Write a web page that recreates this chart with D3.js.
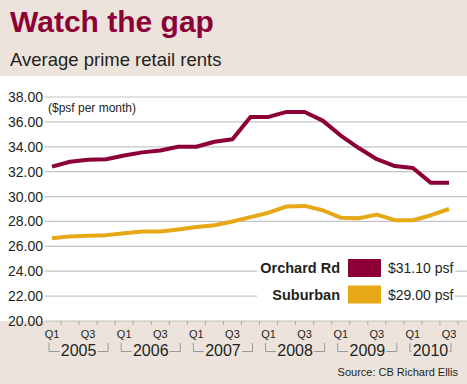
<!DOCTYPE html>
<html>
<head>
<meta charset="utf-8"/>
<title>Watch the gap</title>
<script src="https://d3js.org/d3.v7.min.js"></script>
<style>
  body { margin: 0; background: #fff; }
  text { font-family: "Liberation Sans", Arial, sans-serif; fill: #231f20; }
  .grid { stroke: #c4c4c4; stroke-width: 1.2px; }
</style>
</head>
<body>
<svg width="467" height="384"></svg>
<script>
// data
var quarters = ["Q1","Q2","Q3","Q4","Q1","Q2","Q3","Q4","Q1","Q2","Q3","Q4",
                "Q1","Q2","Q3","Q4","Q1","Q2","Q3","Q4","Q1","Q2","Q3"];
var years = ["2005","2006","2007","2008","2009","2010"];
var orchard = [32.4, 32.8, 32.95, 33.0, 33.3, 33.55, 33.7, 34.0, 34.0, 34.4, 34.6, 36.4,
               36.4, 36.8, 36.8, 36.1, 34.9, 33.9, 33.0, 32.45, 32.3, 31.1, 31.1];
var suburban = [26.65, 26.8, 26.85, 26.9, 27.05, 27.2, 27.2, 27.35, 27.55, 27.7, 28.0, 28.35,
                28.7, 29.2, 29.25, 28.9, 28.3, 28.25, 28.55, 28.1, 28.1, 28.5, 29.0];
var yTicks = [20, 22, 24, 26, 28, 30, 32, 34, 36, 38];
var seriesNames = ["Orchard Rd", "Suburban"];
var latest = ["$31.10 psf", "$29.00 psf"];
var colors = ["#8c0037", "#e6a817"];

var svg = d3.select("svg");
var beige = "#ece4dc";

var x = d3.scaleLinear().domain([0, 22]).range([52, 449]);
var y = d3.scaleLinear().domain([20, 38]).range([321, 97]);

// header + footer panels
svg.append("rect").attr("x", 0).attr("y", 0).attr("width", 467).attr("height", 76).attr("fill", beige);
svg.append("rect").attr("x", 0).attr("y", y(20)).attr("width", 467).attr("height", 384 - y(20)).attr("fill", beige);

svg.append("text").attr("x", 10).attr("y", 32)
  .style("font-size", "30px").style("font-weight", "bold").style("fill", "#8c0037")
  .text("Watch the gap");
svg.append("text").attr("x", 10).attr("y", 66)
  .style("font-size", "18.5px")
  .text("Average prime retail rents");

// gridlines + y labels
svg.selectAll("line.grid").data(yTicks).enter().append("line")
  .attr("class", "grid")
  .attr("x1", 45).attr("x2", 467)
  .attr("y1", function(d) { return y(d); })
  .attr("y2", function(d) { return y(d); });

svg.selectAll("text.ylab").data(yTicks).enter().append("text")
  .attr("class", "ylab")
  .attr("x", 43).attr("y", function(d) { return y(d); })
  .attr("dy", "0.36em").attr("text-anchor", "end")
  .style("font-size", "14px")
  .text(function(d) { return d3.format(".2f")(d); });

svg.append("text").attr("x", 48).attr("y", 112)
  .style("font-size", "12px").text("($psf per month)");

// x ticks between quarters
var tickIdx = d3.range(-0.5, 23, 1);
svg.selectAll("line.xtick").data(tickIdx).enter().append("line")
  .attr("x1", function(d) { return x(d); }).attr("x2", function(d) { return x(d); })
  .attr("y1", y(20)).attr("y2", y(20) + 4)
  .attr("stroke", "#aaa").attr("stroke-width", 1);

// quarter labels, only Q1 and Q3
quarters.forEach(function(q, i) {
  if (q == "Q1" || q == "Q3")
    svg.append("text").attr("x", x(i)).attr("y", 338)
      .attr("text-anchor", "middle").style("font-size", "11px").text(q);
});

// year brackets
years.forEach(function(yr, k) {
  var first = k * 4, last = Math.min(k * 4 + 3, quarters.length - 1);
  var x0 = x(first) - 3, x1 = x(last) + 2;
  var cx = (x0 + x1) / 2, half = 19;
  var g = svg.append("g").attr("stroke", "#999").attr("fill", "none").attr("stroke-width", 1);
  g.append("path").attr("d", "M" + x0 + ",343V351.5H" + (cx - half));
  g.append("path").attr("d", "M" + x1 + ",343V351.5H" + (cx + half));
  svg.append("text").attr("x", cx).attr("y", 356).attr("text-anchor", "middle")
    .style("font-size", "16px").text(yr);
});

// lines
var line = d3.line()
  .x(function(d, i) { return x(i); })
  .y(function(d) { return y(d); });

[orchard, suburban].forEach(function(s, k) {
  svg.append("path").datum(s)
    .attr("d", line)
    .attr("fill", "none")
    .attr("stroke", colors[k])
    .attr("stroke-width", 4)
    .attr("stroke-linejoin", "round")
    .attr("stroke-linecap", "butt");
});

// legend
svg.append("rect").attr("x", 257).attr("y", 257).attr("width", 198).attr("height", 50).attr("fill", "#fff");
seriesNames.forEach(function(n, k) {
  var cy = k == 0 ? 268 : 294.5;
  svg.append("text").attr("x", 340).attr("y", cy).attr("dy", "0.36em")
    .attr("text-anchor", "end").style("font-size", "14.5px").style("font-weight", "bold").text(n);
  svg.append("rect").attr("x", 348).attr("y", cy - 9).attr("width", 33).attr("height", 18)
    .attr("fill", colors[k]);
  svg.append("text").attr("x", 388).attr("y", cy).attr("dy", "0.36em")
    .style("font-size", "14px").text(latest[k]);
});

svg.append("text").attr("x", 458).attr("y", 376).attr("text-anchor", "end")
  .style("font-size", "11px").text("Source: CB Richard Ellis");
</script>
</body>
</html>
